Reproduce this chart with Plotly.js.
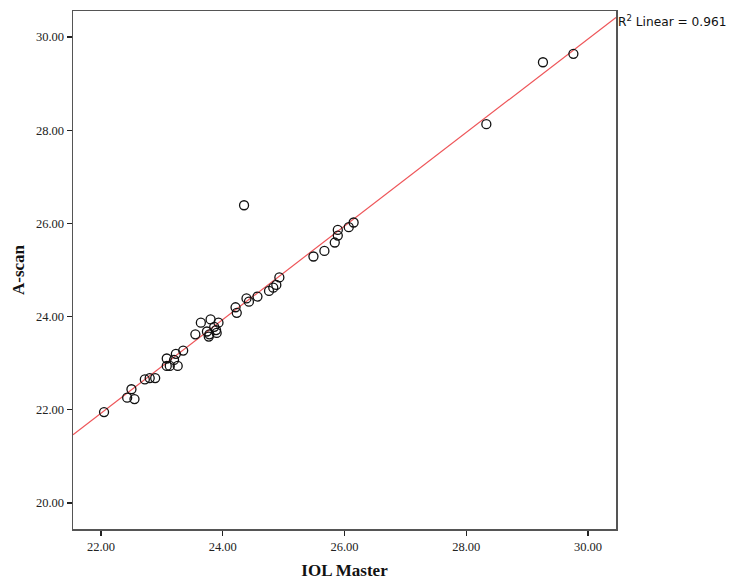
<!DOCTYPE html>
<html>
<head>
<meta charset="utf-8">
<script src="https://cdn.plot.ly/plotly-3.0.1.min.js"></script>
<style>html,body{margin:0;padding:0;background:#fff;}#chart{width:730px;height:583px;}</style>
</head>
<body>
<div id="chart"></div>
<script>
// IOL Master (x) vs A-scan (y) axial length measurements
const iolMaster = [22.05, 22.43, 22.50, 22.55, 22.72, 22.80, 22.89, 23.08, 23.08, 23.13, 23.20, 23.23, 23.26, 23.35,
  23.55, 23.64, 23.74, 23.80, 23.77, 23.78, 23.89, 23.93, 23.90, 23.86,
  24.21, 24.23, 24.35, 24.39, 24.43, 24.57, 24.76, 24.83, 24.88, 24.93,
  25.49, 25.67, 25.84, 25.89, 25.89, 26.07, 26.15, 28.33, 29.26, 29.76];
const aScan = [21.95, 22.26, 22.44, 22.23, 22.65, 22.68, 22.68, 23.10, 22.94, 22.94, 23.07, 23.20, 22.94, 23.27,
  23.62, 23.87, 23.68, 23.94, 23.57, 23.62, 23.71, 23.87, 23.65, 23.78,
  24.20, 24.08, 26.39, 24.39, 24.32, 24.43, 24.55, 24.62, 24.68, 24.84,
  25.29, 25.41, 25.59, 25.74, 25.86, 25.92, 26.02, 28.13, 29.46, 29.64];
const xTicks = [22, 24, 26, 28, 30];
const yTicks = [20, 22, 24, 26, 28, 30];
const r2Label = 'R<sup>2</sup> Linear = 0.961';

const xRange = [21.54, 30.46];
const yRange = [19.44, 30.56];

// least-squares fit line
const n = iolMaster.length;
const mx = iolMaster.reduce((a, b) => a + b, 0) / n;
const my = aScan.reduce((a, b) => a + b, 0) / n;
let sxy = 0, sxx = 0;
for (let i = 0; i < n; i++) { sxy += (iolMaster[i] - mx) * (aScan[i] - my); sxx += (iolMaster[i] - mx) ** 2; }
const slope = sxy / sxx;
const intercept = my - slope * mx;
const fitX = xRange.slice();
const fitY = fitX.map(x => intercept + slope * x);

const serif = 'Liberation Serif, Times New Roman, serif';

const traces = [
  {
    x: fitX, y: fitY, mode: 'lines', type: 'scatter',
    line: {color: '#ee5559', width: 1.2}, hoverinfo: 'skip', showlegend: false
  },
  {
    x: iolMaster, y: aScan, mode: 'markers', type: 'scatter',
    marker: {symbol: 'circle-open', size: 9, color: '#111', line: {width: 1.3, color: '#111'}},
    showlegend: false
  }
];

const axisCommon = {
  showgrid: false, zeroline: false, showline: true, linecolor: '#555', linewidth: 1.5,
  mirror: true, ticks: 'outside', ticklen: 5, tickwidth: 1.3, tickcolor: '#222',
  tickfont: {family: serif, size: 12.5, color: '#222'}
};

const layout = {
  width: 730, height: 583,
  margin: {l: 73, r: 114, t: 11, b: 54},
  paper_bgcolor: '#fff', plot_bgcolor: '#fff',
  xaxis: Object.assign({}, axisCommon, {
    range: xRange, tickvals: xTicks, ticktext: xTicks.map(v => v.toFixed(2)),
    title: {text: '<b>IOL Master</b>', font: {family: serif, size: 17, color: '#111'}, standoff: 11}
  }),
  yaxis: Object.assign({}, axisCommon, {
    range: yRange, tickvals: yTicks, ticktext: yTicks.map(v => v.toFixed(2)),
    title: {text: '<b>A-scan</b>', font: {family: serif, size: 17, color: '#111'}, standoff: 7}
  }),
  annotations: [{
    xref: 'paper', yref: 'paper', x: 1.0, y: 1.0, xanchor: 'left', yanchor: 'top',
    xshift: 0, yshift: 0, showarrow: false, text: r2Label,
    font: {family: 'DejaVu Sans, Verdana, sans-serif', size: 12.2, color: '#111'}
  }]
};

Plotly.newPlot('chart', traces, layout, {displayModeBar: false, staticPlot: true});
</script>
</body>
</html>
